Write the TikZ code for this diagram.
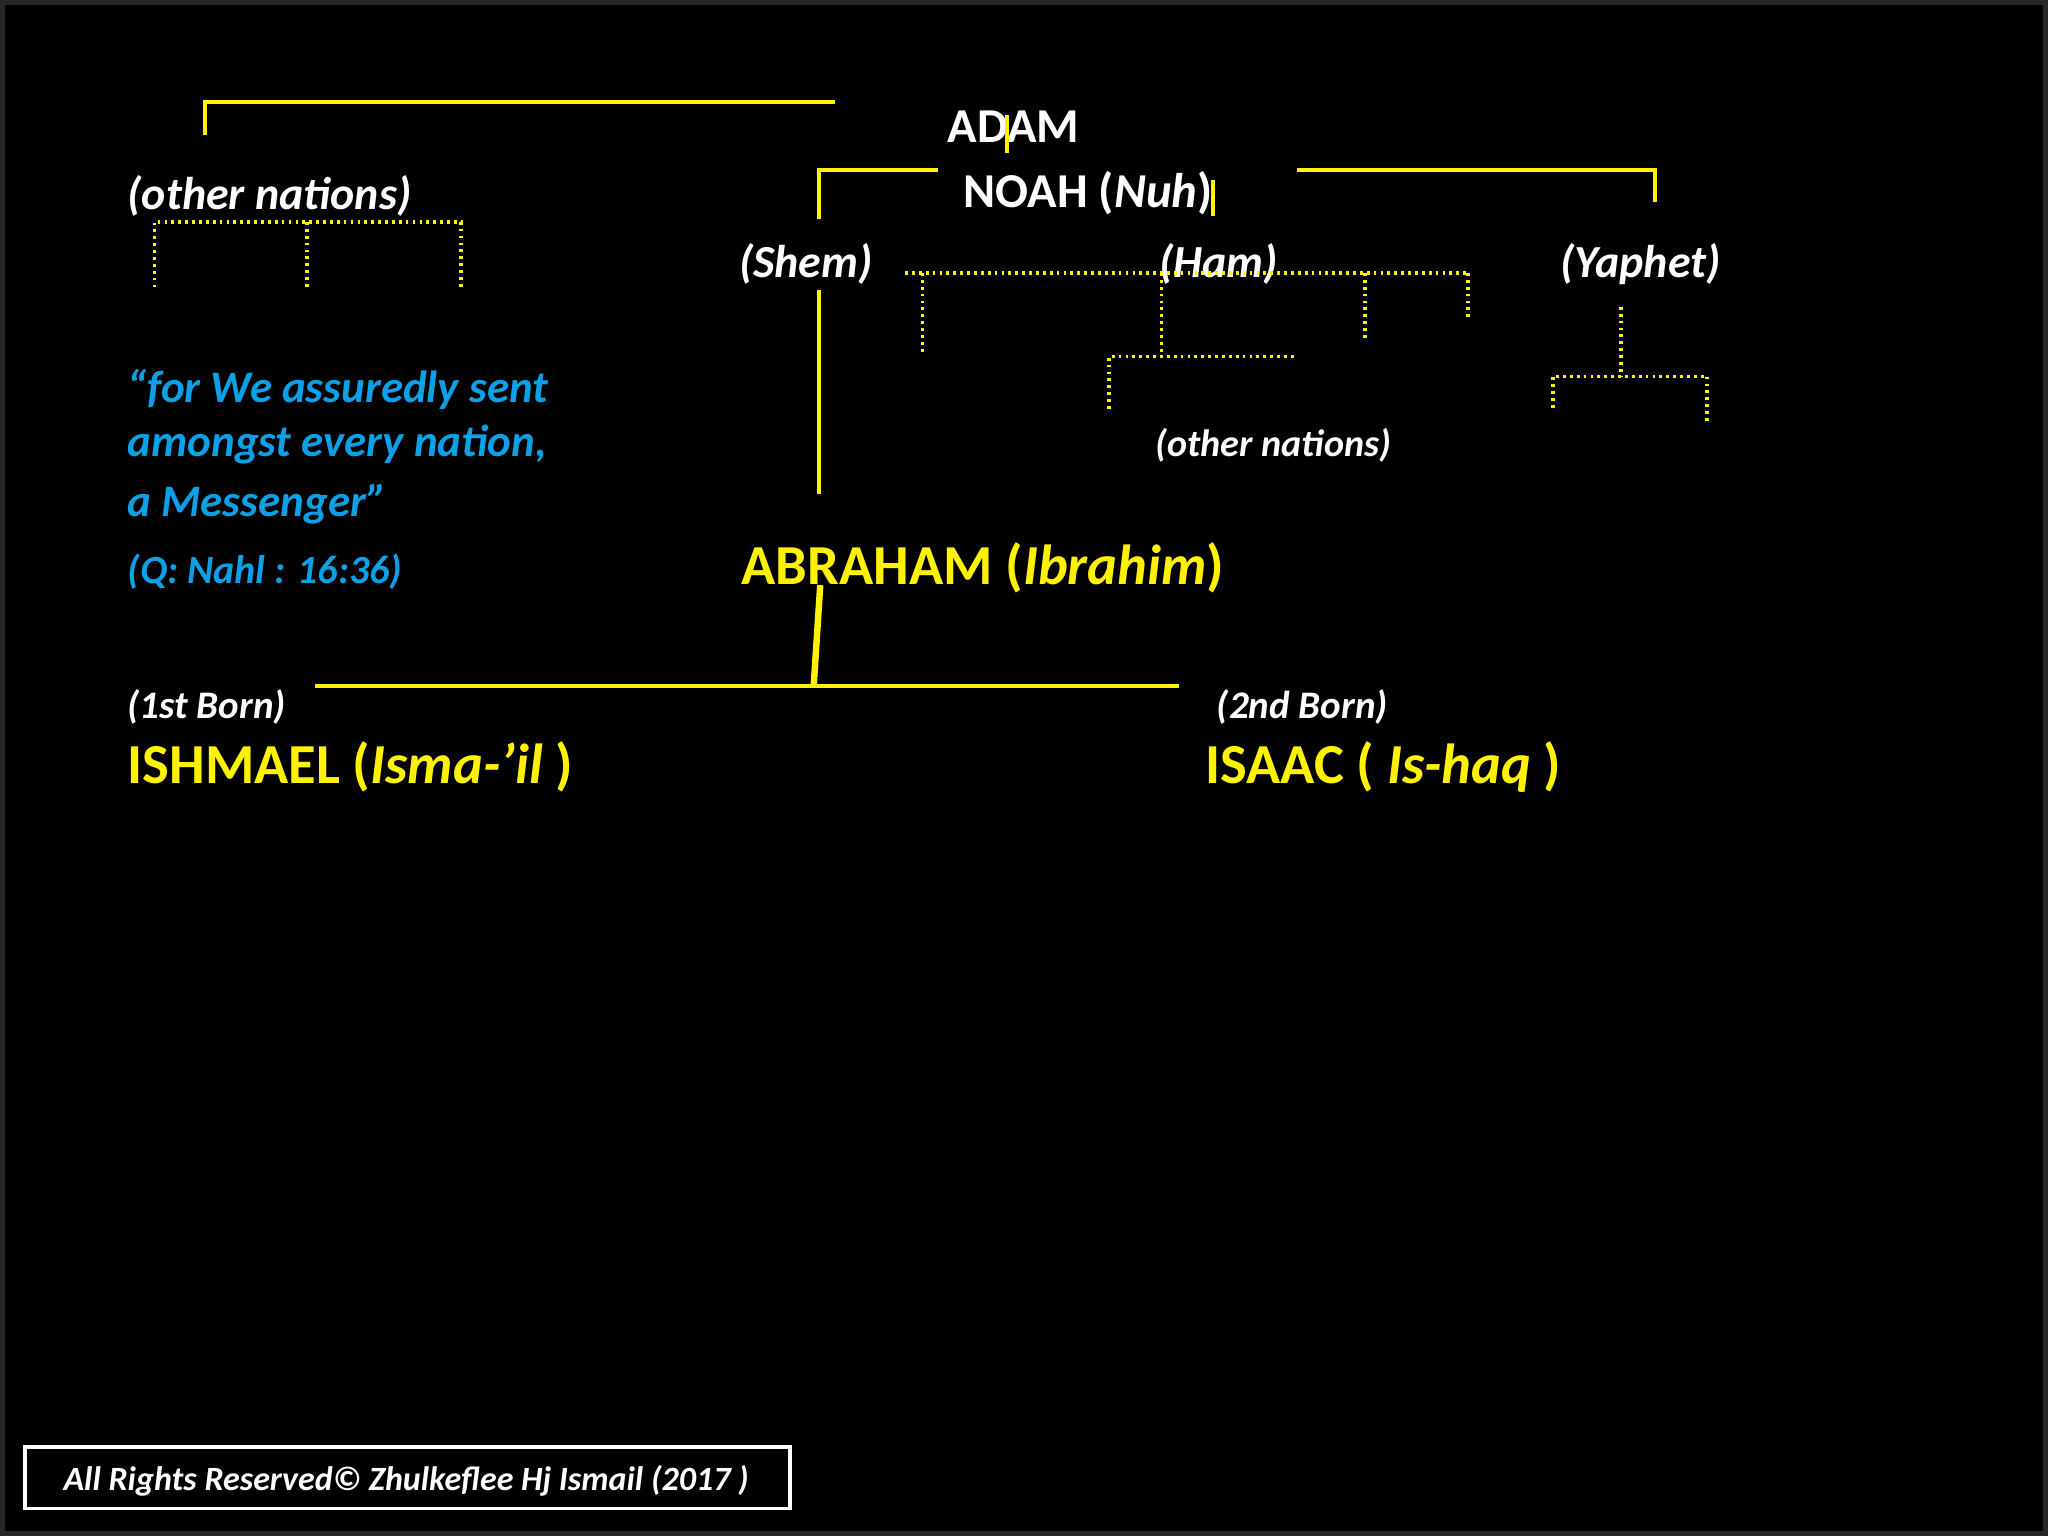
\documentclass[tikz,border=0pt]{standalone}
\usepackage{fontspec}
\setmainfont{Carlito}
\definecolor{qblue}{HTML}{0CA0E6}
\begin{document}
\begin{tikzpicture}[x=0.01cm,y=-0.01cm,
  yl/.style={draw=yellow,line width=0.9pt},
  yd/.style={draw=yellow,line width=0.7pt,dash pattern=on 0.6pt off 0.9pt},
  wt/.style={text=white,font=\bfseries\fontsize{10}{12}\selectfont,inner sep=0pt},
  bt/.style={text=qblue,font=\bfseries\itshape\fontsize{9.8}{12}\selectfont,inner sep=0pt,anchor=west},
  big/.style={text=yellow,font=\bfseries\fontsize{12.3}{14}\selectfont,inner sep=0pt,anchor=west}]
\fill[black!85!white] (0,0) rectangle (1568,1176);
\fill[black] (4,4) rectangle (1564,1172);
\useasboundingbox (0,0) rectangle (1568,1176);
% text
\node[wt,font=\bfseries\fontsize{10.6}{12}\selectfont] (adam) at (776,97) {ADAM};
\node[wt,font=\bfseries\fontsize{10.6}{12}\selectfont] (noah) at (833,148) {NOAH (\textit{Nuh})};
\node[wt,font=\bfseries\itshape\fontsize{10}{12}\selectfont] (shem) at (617,202) {(Shem)};
\node[wt,font=\bfseries\itshape\fontsize{10}{12}\selectfont] (ham) at (933,202) {(Ham)};
\node[wt,font=\bfseries\itshape\fontsize{10}{12}\selectfont] (yaphet) at (1256,202) {(Yaphet)};
\node[wt,anchor=west,font=\bfseries\itshape\fontsize{10}{12}\selectfont] (on1) at (97,150) {(other nations)};
\node[wt,font=\bfseries\itshape\fontsize{8.3}{10}\selectfont] (on2) at (975,341) {(other nations)};
\node[bt] (q1) at (97,298) {“for We assuredly sent};
\node[bt] (q2) at (97,340) {amongst every nation,};
\node[bt] (q3) at (97,386) {a Messenger”};
\node[bt,font=\bfseries\itshape\fontsize{8.7}{10}\selectfont] (q4) at (97,438) {(Q: Nahl : 16:36)};
\node[big] (abr) at (567,435) {ABRAHAM (\textit{Ibrahim})};
\node[wt,anchor=west,font=\bfseries\itshape\fontsize{8.5}{10}\selectfont] (b1) at (97,541) {(1st Born)};
\node[big] (ish) at (97,587) {ISHMAEL (\textit{Isma-’il} )};
\node[wt,anchor=west,font=\bfseries\itshape\fontsize{8.5}{10}\selectfont] (b2) at (931,541) {(2nd Born)};
\node[big] (isa) at (922,587) {ISAAC ( \textit{Is-haq} )};
\draw[white,line width=0.8pt] (19,1108) rectangle (605,1155);
\node[text=white,font=\bfseries\itshape\fontsize{7.4}{9}\selectfont,inner sep=0pt] (copy) at (311,1134) {All Rights Reserved© Zhulkeflee Hj Ismail (2017 )};
% solid lines
\draw[yl] (157,103) -- (157,78) -- (639,78);
\draw[yl] (771,88) -- (771,117);
\draw[yl] (627,168) -- (627,130) -- (718,130);
\draw[yl] (993,130) -- (1267,130) -- (1267,155);
\draw[yl] (929,138) -- (929,165);
\draw[yl] (627,222) -- (627,378);
\draw[yl,line width=1.4pt] (628,448) -- (623,525);
\draw[yl] (241,525) -- (903,525);
% dotted
\draw[yd] (693,209) -- (1124,209);
\draw[yd] (706,209) -- (706,272);
\draw[yd] (889,209) -- (889,273);
\draw[yd] (1045,209) -- (1045,260);
\draw[yd] (1124,209) -- (1124,245);
\draw[yd] (849,313) -- (849,273) -- (993,273);
\draw[yd] (1241,235) -- (1241,288);
\draw[yd] (1189,312) -- (1189,288) -- (1307,288) -- (1307,325);
\draw[yd] (118,220) -- (118,170) -- (353,170) -- (353,220);
\draw[yd] (235,170) -- (235,220);
\end{tikzpicture}
\end{document}
